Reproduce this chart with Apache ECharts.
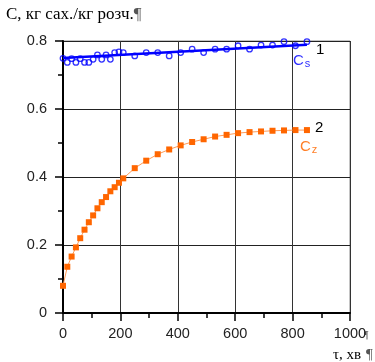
<!DOCTYPE html>
<html>
<head>
<meta charset="utf-8">
<script src="https://cdn.jsdelivr.net/npm/echarts@6/dist/echarts.min.js"></script>
<style>
  html, body { margin: 0; padding: 0; background: #fff; }
  #chart { width: 375px; height: 362px; }
</style>
</head>
<body>
<div id="chart"></div>
<script>
// час, хв
const csTime = [0, 15, 30, 45, 60, 75, 90, 105, 120, 135, 150, 165, 180, 195, 210,
  250, 290, 330, 370, 410, 450, 490, 530, 570, 610, 650, 690, 730, 770, 810, 850];
// Cs, експеримент
const csValues = [0.749, 0.737, 0.748, 0.737, 0.748, 0.737, 0.737, 0.746, 0.759, 0.746,
  0.759, 0.746, 0.766, 0.768, 0.766, 0.756, 0.766, 0.766, 0.756, 0.766, 0.776, 0.766,
  0.776, 0.776, 0.786, 0.776, 0.788, 0.788, 0.798, 0.786, 0.798];
// Cs, апроксимація
const fitTime = [0, 850];
const fitValues = [0.750, 0.789];
// Cz
const czTime = csTime;
const czValues = [0.080, 0.136, 0.166, 0.193, 0.220, 0.245, 0.267, 0.287, 0.308, 0.326,
  0.341, 0.358, 0.370, 0.383, 0.396, 0.426, 0.448, 0.467, 0.481, 0.493, 0.503, 0.511,
  0.519, 0.524, 0.529, 0.532, 0.534, 0.536, 0.537, 0.538, 0.538];

const zip = (xs, ys) => xs.map((x, i) => [x, ys[i]]);

const chart = echarts.init(document.getElementById('chart'));
const labelFont = { color: '#222', fontSize: 14.5, fontFamily: 'Liberation Sans, Arial, sans-serif' };

chart.setOption({
  animation: false,
  grid: { left: 63, right: 25, top: 41, bottom: 49, show: true, borderColor: '#888', borderWidth: 1 },
  xAxis: {
    type: 'value', min: 0, max: 1000, interval: 200,
    axisLine: { show: true, onZero: false, lineStyle: { color: '#000', width: 2 } },
    axisTick: { show: true, length: 8, lineStyle: { color: '#000', width: 1.5 } },
    minorTick: { show: true, splitNumber: 2, length: 5, lineStyle: { color: '#000', width: 1.5 } },
    splitLine: { show: true, lineStyle: { color: '#333', width: 1 } },
    axisLabel: Object.assign({ margin: 13, formatter: v => String(v) }, labelFont)
  },
  yAxis: {
    type: 'value', min: 0, max: 0.8, interval: 0.2,
    axisLine: { show: true, onZero: false, lineStyle: { color: '#000', width: 2 } },
    axisTick: { show: true, length: 8, lineStyle: { color: '#000', width: 1.5 } },
    minorTick: { show: true, splitNumber: 2, length: 5, lineStyle: { color: '#000', width: 1.5 } },
    splitLine: { show: true, lineStyle: { color: '#222', width: 1 } },
    axisLabel: Object.assign({ margin: 16 }, labelFont)
  },
  series: [
    {
      name: 'Cs fit', type: 'line', data: zip(fitTime, fitValues),
      symbol: 'none', lineStyle: { color: '#0000ff', width: 2.5 }, z: 3
    },
    {
      name: 'Cs', type: 'scatter', data: zip(csTime, csValues),
      symbol: 'circle', symbolSize: 5.5,
      itemStyle: { color: 'rgba(255,255,255,0)', borderColor: '#0000ff', borderWidth: 1.3 }, z: 4
    },
    {
      name: 'Cz', type: 'line', data: zip(czTime, czValues),
      symbol: 'rect', symbolSize: 6, showAllSymbol: true,
      itemStyle: { color: '#ff6600' },
      lineStyle: { color: '#ff9955', width: 1 }, z: 3
    }
  ],
  graphic: [
    { type: 'text', left: 6, top: 6, style: { text: 'C, кг сах./кг розч.{p|¶}', font: '17px "Liberation Serif", serif', fill: '#000',
        rich: { p: { fill: '#555', fontSize: 17, fontFamily: 'Liberation Serif' } } } },
    { type: 'text', left: 316, top: 42, style: { text: '1', font: '15px "Liberation Sans", sans-serif', fill: '#000' } },
    { type: 'text', left: 293, top: 53, style: { text: 'C{s|s}', font: '15px "Liberation Sans", sans-serif', fill: '#3030ff',
        rich: { s: { fontSize: 11, fill: '#3030ff', padding: [7, 0, 0, 1], fontFamily: 'Liberation Sans' } } } },
    { type: 'text', left: 315, top: 120, style: { text: '2', font: '15px "Liberation Sans", sans-serif', fill: '#000' } },
    { type: 'text', left: 300, top: 139, style: { text: 'C{s|z}', font: '15px "Liberation Sans", sans-serif', fill: '#ff7f27',
        rich: { s: { fontSize: 11, fill: '#ff7f27', padding: [7, 0, 0, 1], fontFamily: 'Liberation Sans' } } } },
    { type: 'text', left: 364, top: 330, style: { text: '¶', font: '10px "Liberation Serif", serif', fill: '#555' } },
    { type: 'text', left: 333, top: 348, style: { text: 'τ, хв', font: '15px "Liberation Serif", serif', fill: '#000' } },
    { type: 'text', left: 366, top: 348, style: { text: '¶', font: '15px "Liberation Serif", serif', fill: '#555' } }
  ]
});
</script>
</body>
</html>
